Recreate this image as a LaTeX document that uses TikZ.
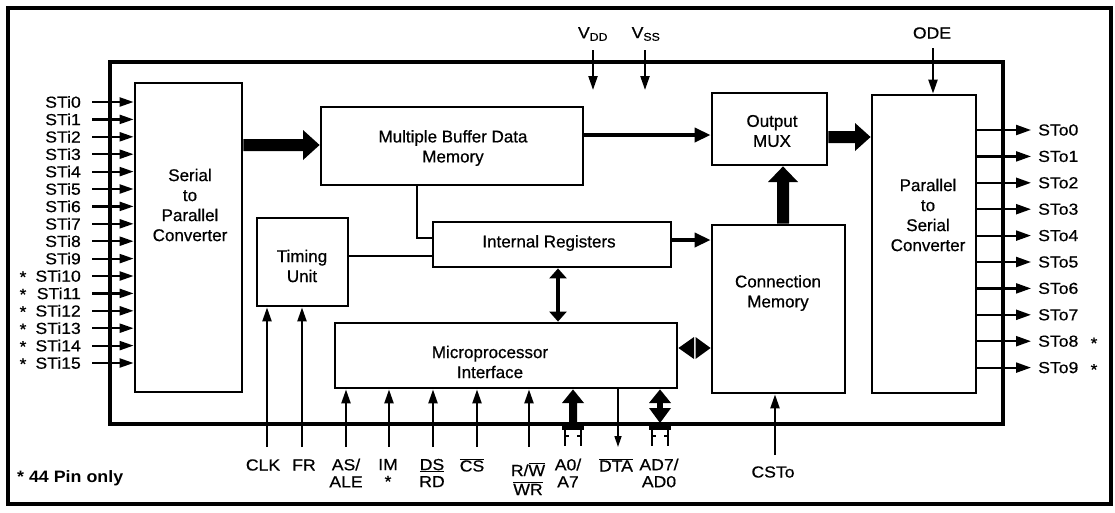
\documentclass[tikz,border=0pt]{standalone}
\usepackage{fontspec}
\setmainfont{Liberation Sans}[FakeBold=0.6]
\newfontfamily\pinfont{Liberation Sans}[FakeStretch=1.1,FakeBold=0.6]
\newfontfamily\notefont{Liberation Sans Bold}[FakeStretch=1.08]
\usetikzlibrary{arrows.meta,calc}
\begin{document}
\begin{tikzpicture}[x=1pt,y=-1pt,
  blk/.style={draw,line width=2.8pt,inner sep=0pt},
  sig/.style={line width=2.2pt,-{Triangle[length=14pt,width=9pt]}},
  osig/.style={line width=2.2pt,-{Triangle[length=15pt,width=10pt]}},
  dsig/.style={line width=3.6pt,-{Triangle[length=16pt,width=14pt]}},
  plainln/.style={line width=2.6pt},
  lbl/.style={font=\pinfont\fontsize{16}{17}\selectfont,inner sep=0pt,align=center},
  btxt/.style={font=\fontsize{17}{20}\selectfont,inner sep=0pt,align=center},
  bus/.style={fill=black}
]
\useasboundingbox (0,0) rectangle (1115,512);
% frames
\draw[line width=4.2pt] (8,8) rectangle (1111,504);
\draw[line width=3.2pt] (110,62) rectangle (1003,424);

% blocks
\node[blk,minimum width=107pt,minimum height=309pt] (sp) at (188.5,237.5) {};
\node[btxt] at (190,205) {Serial\\to\\Parallel\\Converter};
\node[blk,minimum width=262pt,minimum height=78pt] (mbdm) at (452,146) {};
\node[btxt] at (453,148) {Multiple Buffer Data\\Memory};
\node[blk,minimum width=115pt,minimum height=72pt] (mux) at (769.5,129) {};
\node[btxt] at (772,131) {Output\\MUX};
\node[blk,minimum width=104pt,minimum height=298pt] (ps) at (924,244) {};
\node[btxt] at (928,215) {Parallel\\to\\Serial\\Converter};
\node[blk,minimum width=133pt,minimum height=168pt] (cm) at (778.5,309) {};
\node[btxt] at (778,293) {Connection\\Memory};
\node[blk,minimum width=238pt,minimum height=45pt] (ir) at (552,244.5) {};
\node[btxt] at (549,243) {Internal Registers};
\node[blk,minimum width=91pt,minimum height=88pt] (tu) at (302.5,262) {};
\node[btxt] at (302,266) {Timing\\Unit};
\node[blk,minimum width=342pt,minimum height=65pt] (mpi) at (506,355.5) {};
\node[btxt] at (490,362) {Microprocessor\\Interface};

% inputs
\foreach \i in {0,...,15}{
  \node[lbl,anchor=east] (sti\i) at (81,{102+17.4*\i}) {STi\i};
  \draw[sig] ([xshift=11pt]sti\i.east) -- (sti\i.east -| sp.west);
}
\foreach \i in {10,...,15}{
  \node[lbl] at (23,{103+17.4*\i}) {*};
}
% outputs
\foreach \i in {0,...,9}{
  \node[lbl,anchor=west] (sto\i) at (1038,{130+26.4*\i}) {STo\i};
  \draw[osig] (sto\i.west -| ps.east) -- ([xshift=-7pt]sto\i.west);
}
\node[lbl] at (1094,{132+26.4*8}) {*};
\node[lbl] at (1094,{132+26.4*9}) {*};

% power, ODE
\node[lbl] (vdd) at (593,34) {V\textsubscript{DD}};
\node[lbl] (vss) at (646,34) {V\textsubscript{SS}};
\node[lbl] (ode) at (932,33) {ODE};
\draw[sig] (593,50) -- (593,90);
\draw[sig] (645,50) -- (645,90);
\draw[sig] (933,48) -- (ps.north -| 933,0);

% big bus arrows
\fill[bus] (sp.east |- 0,139) -- (303,139) -- (303,130) -- (mbdm.west |- 0,145) -- (303,160) -- (303,151) -- (sp.east |- 0,151) -- cycle;
\fill[bus] (mux.east |- 0,131) -- (855,131) -- (855,123) -- (ps.west |- 0,137) -- (855,151) -- (855,143) -- (mux.east |- 0,143) -- cycle;
\fill[bus] (777,0 |- cm.north) -- (777,182) -- (768,182) -- (783,0 |- mux.south) -- (798,182) -- (789,182) -- (789,0 |- cm.north) -- cycle;

% data arrows
\draw[dsig] (mbdm.east |- 0,135) -- (mux.west |- 0,135);
\draw[dsig] (ir.east |- 0,240) -- (cm.west |- 0,240);
\draw[plainln] (417,0 |- mbdm.south) |- (ir.west |- 0,238);
\draw[plainln] (tu.east |- 0,256) -- (ir.west |- 0,256);
\draw[line width=3.2pt,{Triangle[length=10pt,width=17pt]}-{Triangle[length=10pt,width=17pt]}] (558,0 |- ir.south) -- (558,0 |- mpi.north);
% MPI <-> CM diamond
\fill[bus] (mpi.east |- 0,348) -- (694,337) -- (694,359) -- cycle;
\fill[bus] (cm.west |- 0,348) -- (695.5,337) -- (695.5,359) -- cycle;

% bottom pins
\foreach \n/\x in {clk/267,fr/302}{
  \coordinate (p\n) at (\x,447);
  \draw[sig] (p\n) -- (p\n |- tu.south);
}
\foreach \n/\x in {as/346,im/389,ds/433,cs/477,rw/529}{
  \coordinate (p\n) at (\x,447);
  \draw[sig] (p\n) -- (p\n |- mpi.south);
}
\coordinate (pdta) at (618,447);
\draw[line width=1.6pt,-{Triangle[length=11pt,width=7pt]}] (pdta |- mpi.south) -- (pdta);
\coordinate (pcsto) at (775,455);
\draw[sig] (pcsto) -- (pcsto |- cm.south);

% A0/A7 bus
\fill[bus] (569,423) -- (569,403) -- (562,403) -- (573,0 |- mpi.south) -- (584,403) -- (577,403) -- (577,423) -- cycle;
% AD7/AD0 bidirectional bus
\fill[bus] (649,403) -- (660,0 |- mpi.south) -- (671,403) -- cycle;
\fill[bus] (657,402) rectangle (663,409);
\fill[bus] (649,408) -- (660,423) -- (671,408) -- cycle;
% bus feet
\foreach \x in {573,660}{
  \fill[bus] (\x-11,422) rectangle (\x+11,430);
  \draw[line width=2pt] (\x-8,429) -- (\x-8,446);
  \draw[line width=2pt] (\x+8,429) -- (\x+8,446);
  \draw[line width=1.6pt] (\x-8,436) -- (\x-4,436);
  \draw[line width=1.6pt] (\x+8,436) -- (\x+4,436);
}

% pin labels
\node[lbl] at (263,465) {CLK};
\node[lbl] at (304,465) {FR};
\node[lbl] at (346,473) {AS/\\ALE};
\node[lbl] at (388,473) {IM\\*};
\node[lbl] at (432,473) {\underline{DS}\\RD};
\node[lbl] at (472,465) {$\overline{\mbox{CS}}$};
\node[lbl] at (528,479) {R/$\overline{\mbox{W}}$\\[2pt]$\overline{\mbox{WR}}$};
\node[lbl] at (568,473) {A0/\\A7};
\node[lbl] at (616,465) {$\overline{\mbox{DTA}}$};
\node[lbl] at (659,473) {AD7/\\AD0};
\node[lbl] at (773,472) {CSTo};
\node[lbl,anchor=west,font=\notefont\fontsize{16.5}{18}\selectfont] at (17,478) {* 44 Pin only};
\end{tikzpicture}
\end{document}
